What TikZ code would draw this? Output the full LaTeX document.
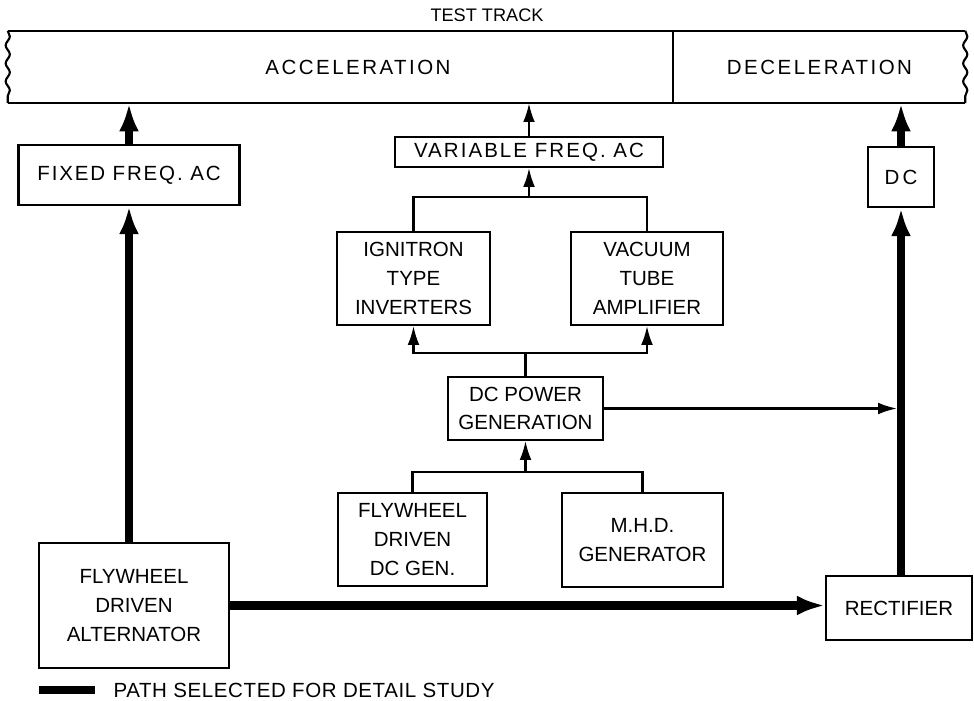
\documentclass[tikz,border=0pt]{standalone}
\usepackage{fontspec}
\setmainfont{Liberation Sans}
\usetikzlibrary{arrows.meta,positioning,calc,decorations.pathmorphing}

\tikzset{
  blk/.style={draw,line width=1.8pt,align=center,inner sep=0pt,
    font=\fontsize{17.5}{24.5}\selectfont},
  spaced/.style={font=\fontsize{17.5}{24.5}\selectfont\addfontfeature{LetterSpace=#1}},
  zone/.style={inner sep=0pt,minimum height=2.16cm},
  wire/.style={line width=1.8pt},
  feed/.style={line width=1.8pt,-{Latex[length=16pt,width=10pt]}},
  main/.style={line width=7pt,-{Latex[length=24pt,width=17pt]}},
  wavy/.style={line width=1.8pt,decorate,
    decoration={snake,amplitude=1.8pt,segment length=0.54cm}}
}

\begin{document}
\begin{tikzpicture}[x=0.03cm,y=-0.03cm]
\useasboundingbox (0,0) rectangle (974,701);
% test track
\node[font=\fontsize{15.5}{18}\selectfont] (title) at (487,15) {TEST TRACK};
\node[zone,minimum width=19.95cm] (accel) at (340.5,67) {};
\node[zone,minimum width=8.76cm] (decel) at (819,67) {};
\node[spaced=12] (acctext) at (358,67) {ACCELERATION};
\node[spaced=12] (dectext) at (819.5,67) {DECELERATION};
\draw[wire] (accel.north west) -- (decel.north east)
  (accel.south west) -- (decel.south east)
  (accel.north east) -- (accel.south east);
\draw[wavy] (accel.north west) -- (accel.south west);
\draw[wavy] (decel.north east) -- (decel.south east);
% supplies
\node[blk,spaced=9,minimum width=6.63cm,minimum height=1.8cm] (fixed) at (129,175) {FIXED FREQ. AC};
\node[blk,spaced=10,minimum width=8.04cm,minimum height=0.9cm] (varf) at (529,152) {VARIABLE FREQ. AC};
\node[blk,spaced=15,minimum width=1.98cm,minimum height=1.8cm] (dc) at (901,177) {DC};
\node[blk,minimum width=4.59cm,minimum height=2.79cm] (ign) at (413.5,278.5) {IGNITRON\\TYPE\\INVERTERS};
\node[blk,minimum width=4.56cm,minimum height=2.79cm] (vac) at (647,278.5) {VACUUM\\TUBE\\AMPLIFIER};
\node[blk,minimum width=4.65cm,minimum height=1.89cm] (dcpow) at (525.5,408.5) {DC POWER\\GENERATION};
\node[blk,minimum width=4.47cm,minimum height=2.79cm] (dcgen) at (412.5,539.5) {FLYWHEEL\\DRIVEN\\DC GEN.};
\node[blk,minimum width=4.83cm,minimum height=2.82cm] (mhd) at (642.5,540) {M.H.D.\\GENERATOR};
\node[blk,minimum width=5.7cm,minimum height=3.75cm] (alt) at (134,605.5) {FLYWHEEL\\DRIVEN\\ALTERNATOR};
\node[blk,minimum width=4.38cm,minimum height=1.92cm] (rect) at (899,608) {RECTIFIER};
% thin connectors
\coordinate (upper) at (529,197);
\coordinate (middle) at (525.5,353);
\coordinate (lower) at (525.5,472);
\draw[wire] (ign.north) |- (upper) -| (vac.north);
\draw[feed] (upper) -- (varf.south);
\draw[feed] (varf.north) -- (varf.north |- accel.south);
\draw[wire] (dcpow.north) -- (middle);
\draw[feed] (middle) -| (ign.south);
\draw[feed] (middle) -| (vac.south);
\draw[wire] (dcgen.north) |- (lower) -| (mhd.north);
\draw[feed] (lower) -- (dcpow.south);
\draw[feed,shorten >=3.5pt] (dcpow.east) -- (dcpow.east -| dc.south);
% selected path
\draw[main] (fixed.south |- alt.north) -- (fixed.south);
\draw[main] (fixed.north) -- (fixed.north |- accel.south);
\draw[main] (alt.east) -- (alt.east -| rect.west);
\draw[main] (dc.south |- rect.north) -- (dc.south);
\draw[main] (dc.north) -- (dc.north |- decel.south);
% key
\coordinate (keyA) at (39,690);
\coordinate (keyB) at (95,690);
\draw[main,-] (keyA) -- (keyB) node[right=9pt,spaced=3] {PATH SELECTED FOR DETAIL STUDY};
\end{tikzpicture}
\end{document}
